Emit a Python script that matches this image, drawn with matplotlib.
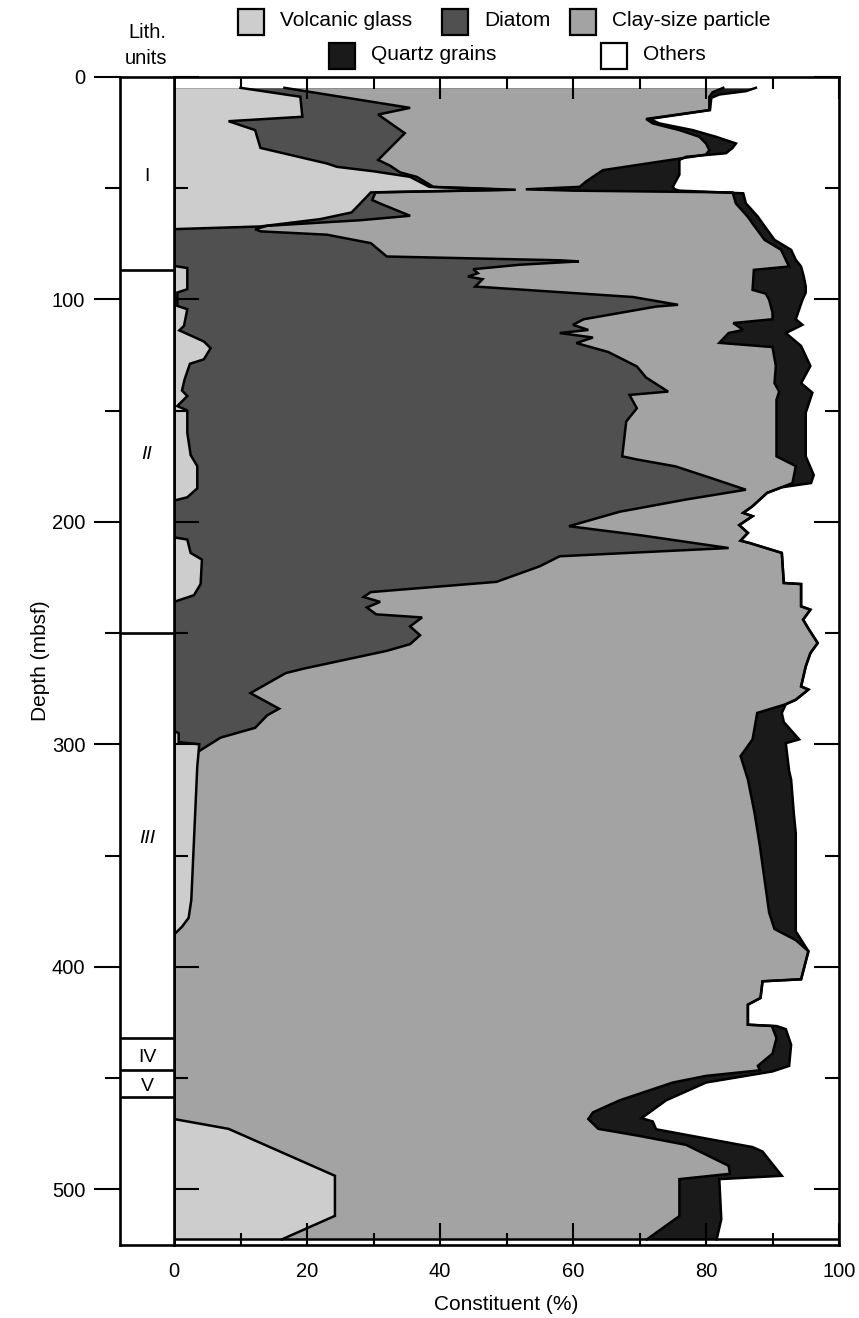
import numpy as np
import matplotlib
matplotlib.use("Agg")
import matplotlib.pyplot as plt
from matplotlib.patches import Rectangle

plt.rcParams['font.family'] = ['Liberation Sans', 'DejaVu Sans']

# Cumulative percentages (left edge = 0 %), each with its own depth samples (mbsf).
# Volcanic glass
glass_depth = [5, 9, 18, 20, 24, 32, 39, 40.5, 42.5, 45, 49.5, 50.8, 52, 57, 61, 64, 67.3,
               68.5, 85, 86, 95.5, 97, 103, 104.5, 112, 114, 119, 122, 127, 129, 136, 141,
               143.5, 148, 150, 160, 170, 175, 185, 189, 190.5, 207, 208, 214, 217, 228, 233,
               236, 294, 295, 299, 300, 310, 330, 350, 370, 378, 382, 385.5, 468.4, 472.8,
               493.9, 511.9, 522.5]
glass_cum = [10, 19, 19.3, 8.2, 12.2, 13, 23, 24.5, 30, 35.5, 38.4, 50, 29.6, 28, 26.7, 22, 13,
             0, 0, 2, 2, 0.5, 0.5, 2, 1.5, 0.8, 4.5, 5.5, 4.5, 2.4, 1.6, 1.2,
             2, 0.5, 2, 2, 2.5, 3.5, 3.5, 2, 0, 0, 2, 2.5, 4.2, 4, 3,
             0, 0, 0.7, 0.7, 3.8, 3.5, 3.2, 2.9, 2.6, 2.2, 1.2, 0, 0, 8.2,
             24.2, 24.2, 16.2]

# Volcanic glass + diatom
diatom_depth = [5, 14, 17, 25.4, 37.4, 40, 43, 45, 49.5, 50.8, 52, 55.4, 57, 62.5, 64.5, 67,
                68.5, 69.5, 71, 74.8, 80.8, 82.5, 83, 84.5, 86.5, 88.3, 89.8, 91, 94.3, 99,
                102.5, 103.3, 109, 111.5, 113.8, 115.2, 117.2, 119.7, 123.7, 130.2, 135.2,
                141.5, 143, 149, 155, 170.6, 172, 175.1, 180.1, 185.6, 190, 195.5, 202, 206,
                211.8, 215.5, 220, 227, 231.6, 233.8, 236, 238.5, 241.6, 243, 247, 251, 255,
                258, 266, 268, 277, 284, 287, 292.6, 297, 303]
diatom_cum = [16.6, 35.5, 30.7, 34.7, 30.7, 32.5, 34, 36.5, 39, 51.4, 30.3, 29.8, 31, 35.5, 28, 14,
              12.2, 13, 23, 29.6, 32, 58, 60.9, 52, 45, 45.7, 44.2, 46.4, 45.3, 69,
              75.8, 72.5, 61.6, 60, 62.3, 58, 63, 60.5, 65.3, 69.6, 71,
              74.3, 68.5, 69.6, 68, 67.4, 69.6, 75.4, 80.5, 86, 77, 67, 59.4, 70,
              83.4, 58, 55, 48.5, 29.6, 28.5, 31, 29, 30.4, 37.3, 35.5, 37, 35.5,
              32, 19.5, 16.8, 11.5, 15.8, 14, 12.2, 7, 3.8]

# Volcanic glass + diatom + clay-size particles
clay_depth = [5, 7, 9, 15, 19, 21, 24, 27, 30, 33, 35, 37.4, 42, 47, 49.5, 50.6, 51.2, 52, 57,
              63, 66, 73.3, 77.8, 82.3, 85.3, 86.8, 95.8, 97.5, 100.3, 106, 109, 110.7, 113.8,
              115.2, 119.6, 121.5, 130, 137.7, 141.5, 145.2, 170.6, 175, 182.6, 184.5, 187,
              190, 193, 196, 197.5, 201.5, 205, 208.5, 209.5, 214, 227.5, 228, 238, 239.5,
              244, 248, 254.5, 259, 265, 274, 275.4, 280, 282, 285.9, 297.8, 305.3, 315.8,
              330.8, 345.7, 360.7, 375.7, 383, 388, 393, 405.6, 406.5, 414, 417, 426, 426.6,
              432, 439, 444.5, 446.5, 449, 452, 460, 465.4, 468.4, 472.8, 476, 480, 489.4,
              493, 495.4, 512, 522.5]
clay_cum = [82.6, 81, 80.5, 80.5, 71, 72, 76, 79, 80, 80.5, 80, 74.7, 64.5, 62, 61, 52.9, 60, 84,
            84.5, 86.3, 87, 88.8, 91.3, 92, 92.5, 87.2, 87, 89, 89.5, 90, 90, 84.1, 85.6,
            83.4, 82, 90, 90.5, 90.3, 91, 90.6, 90.6, 93.5, 93, 91.4, 89.2,
            88.1, 87, 85.6, 87, 85, 86.3, 85.2, 86.5, 91.4, 91.7, 94.3, 94.3, 95.7,
            94.6, 95.4, 96.8, 95.7, 95, 94.3, 95.4, 93.5, 92, 87.7, 87, 85.2, 86.3,
            87.3, 88.1, 88.8, 89.5, 90.3, 93.5, 95.4, 94.3, 88.5, 88.2, 86.3, 86.3, 89.9,
            90.6, 90, 87.8, 88.1, 80, 75, 67, 63, 62.3, 63.8, 70, 77, 83.4,
            83.6, 76, 76, 71.1]

# Volcanic glass + diatom + clay + quartz grains (remainder to 100 % = others)
quartz_depth = [5, 6.5, 8, 9.5, 15, 19, 21, 24, 27, 30, 32, 34.4, 36, 37.4, 44, 49.5, 50.6,
                51.2, 52.4, 56.9, 62.9, 65.9, 73.3, 77.8, 82.3, 85.3, 89.8, 94.3, 97, 100.3,
                109, 111.5, 115.2, 121, 130, 137.7, 142, 151, 170.6, 179, 182.6, 184.5, 187,
                190, 193, 196, 197.5, 201.5, 205, 208.5, 209.5, 214, 227.5, 228, 238, 239.5,
                244, 248, 254.5, 259, 265, 274, 275.4, 280, 282, 285.9, 290, 297.8, 299.5,
                312, 315.8, 330.8, 340, 384, 393, 405.6, 406.5, 414, 417, 426, 426.6, 428,
                435, 444.5, 447, 452, 460, 468, 469.5, 473, 481, 483, 493.9, 495.4, 513.4,
                522.5]
quartz_cum = [87.5, 86, 82, 80.8, 80.6, 71.5, 73, 78, 81.5, 84.5, 84, 83, 77, 76, 76, 75, 75.3,
              76, 85.6, 86, 87.8, 88.5, 90.3, 92.8, 93.5, 94.3, 94.7, 95, 95, 94.5,
              93.5, 94.5, 92, 94.3, 95.7, 94.3, 96, 95, 95, 96.2, 95.8, 91.4, 89.2,
              88.1, 87, 85.6, 87, 85, 86.3, 85.2, 86.5, 91.4, 91.7, 94.3, 94.3, 95.7,
              94.6, 95.4, 96.8, 95.7, 95, 94.3, 95.4, 93.5, 92, 91.4, 91.7, 94, 92,
              92.5, 92.8, 93.2, 93.5, 93.5, 95.4, 94.3, 88.5, 88.2, 86.3, 86.3, 90.6, 92,
              92.8, 92.5, 90, 80, 74, 70.3, 72, 72.5, 87, 88.5, 91.4, 82, 82.3,
              81.6]

# Lithologic units
units = ["I", "II", "III", "IV", "V"]
unit_tops = [0, 86.8, 250, 431.8, 446.3]
unit_bases = [86.8, 250, 431.8, 446.3, 458.3]
unit_italic = [False, True, True, False, False]

# Legend
legend_labels = ["Volcanic glass", "Diatom", "Clay-size particle", "Quartz grains", "Others"]
colors = ["#cdcdcd", "#505050", "#a3a3a3", "#1a1a1a", "#ffffff"]

depth_max = 525
W, H = 859, 1318

fig = plt.figure(figsize=(W / 100, H / 100), dpi=100)
top_px, bot_px = 76.7, 1245
ax = fig.add_axes([174 / W, 1 - bot_px / H, 665 / W, (bot_px - top_px) / H])
lax = fig.add_axes([120 / W, 1 - bot_px / H, 54 / W, (bot_px - top_px) / H])

# Stacked areas: paint from the outermost cumulative curve inwards
series = [(quartz_depth, quartz_cum, colors[3]),
          (clay_depth, clay_cum, colors[2]),
          (diatom_depth, diatom_cum, colors[1]),
          (glass_depth, glass_cum, colors[0])]
for d, c, col in series:
    ax.fill_betweenx(d, 0, c, color=col, lw=0, zorder=1)
for d, c, col in series:
    ax.plot(c, d, color='k', lw=1.8, zorder=2, solid_joinstyle='miter')
ax.axhline(glass_depth[-1], color='k', lw=1.8, zorder=2)

ax.set_xlim(0, 100)
ax.set_ylim(depth_max, 0)
ax.set_xticks(np.arange(0, 101, 20))
ax.set_xticks(np.arange(10, 100, 20), minor=True)
ax.set_yticks(np.arange(0, 501, 100))
ax.set_yticks(np.arange(50, 501, 100), minor=True)
ax.tick_params(axis='x', which='both', direction='in', top=True, bottom=True,
               labelsize=14.5, pad=12, width=1.5)
ax.tick_params(axis='x', which='major', length=16)
ax.tick_params(axis='x', which='minor', length=8.5)
ax.tick_params(axis='y', which='both', direction='in', left=True, right=True,
               labelleft=False, width=1.5)
ax.tick_params(axis='y', which='major', length=18)
ax.tick_params(axis='y', which='minor', length=10)
ax.set_xlabel("Constituent (%)", fontsize=15, labelpad=10)
for s in ax.spines.values():
    s.set_linewidth(1.9)

# Lithologic unit column
lax.set_xlim(0, 1)
lax.set_ylim(depth_max, 0)
lax.set_xticks([])
lax.set_yticks(np.arange(0, 501, 100))
lax.set_yticks(np.arange(50, 501, 100), minor=True)
lax.tick_params(axis='y', which='both', direction='out', left=True, right=False,
                labelsize=14.5, pad=6, width=1.5)
lax.tick_params(axis='y', which='major', length=19)
lax.tick_params(axis='y', which='minor', length=11)
for s in lax.spines.values():
    s.set_linewidth(1.9)
for name, t, b, it in zip(units, unit_tops, unit_bases, unit_italic):
    lax.axhline(b, color='k', lw=1.9)
    lax.text(0.5, (t + b) / 2 + 1.5, name, ha='center', va='center', fontsize=14,
             style='italic' if it else 'normal')

fig.text(40 / W, 1 - (top_px + bot_px) / 2 / H, "Depth (mbsf)", rotation=90,
         ha='center', va='center', fontsize=15)
fig.text(147 / W, 1 - 33 / H, "Lith.", ha='center', va='center', fontsize=14.5)
fig.text(146 / W, 1 - 58 / H, "units", ha='center', va='center', fontsize=14.5)

# Legend keys
key_w, key_h = 26, 26
key_pos = [(238, 22), (442, 22), (570, 22), (329, 55.5), (601, 55.5)]
for lab, col, (kx, ky) in zip(legend_labels, colors, key_pos):
    fig.add_artist(Rectangle((kx / W, 1 - (ky + key_h / 2) / H), key_w / W, key_h / H,
                             transform=fig.transFigure, facecolor=col,
                             edgecolor='k', lw=1.6))
    fig.text((kx + key_w + 16) / W, 1 - (ky - 1) / H, lab, ha='left', va='center',
             fontsize=15)

fig.savefig("out.png", dpi=100)
